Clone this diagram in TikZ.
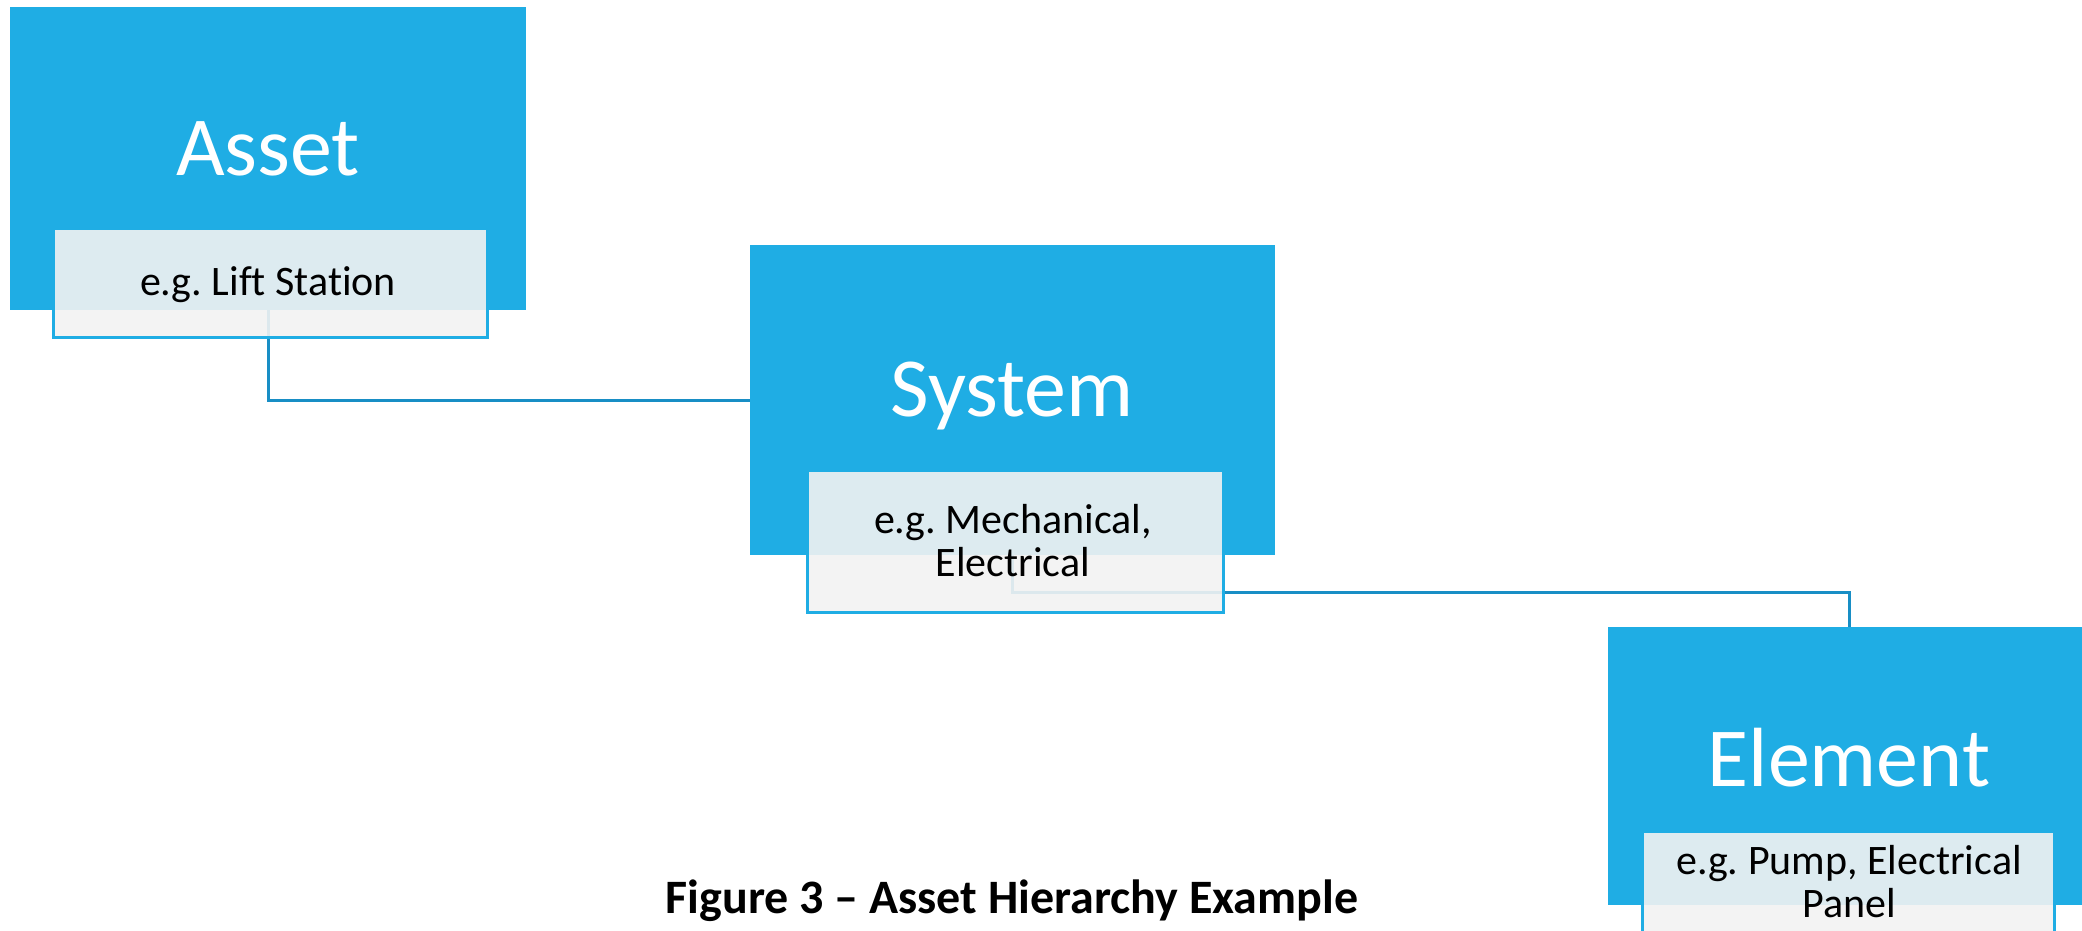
\documentclass[tikz,border=0pt]{standalone}
\usepackage{fontspec}
\setmainfont{Carlito}[Ligatures=NoCommon]
\frenchspacing
\definecolor{boxblue}{RGB}{31,173,228}
\definecolor{subgray}{RGB}{242,242,242}
\definecolor{linkblue}{RGB}{24,142,197}
\begin{document}
\begin{tikzpicture}[x=0.5pt,y=-0.5pt,
  mainbox/.style={draw=none, fill=boxblue, inner sep=0pt, outer sep=0pt},
  subbox/.style={fill=subgray, fill opacity=0.9, draw=boxblue, line width=1.5pt, inner sep=0pt, outer sep=0pt},
  link/.style={draw=linkblue, line width=1.5pt},
  title/.style={text=white, font=\fontsize{42}{50}\selectfont, anchor=base, inner sep=0pt},
  subtext/.style={text=black, font=\fontsize{21}{21.5}\selectfont\frenchspacing, align=center, inner sep=0pt}
]
\useasboundingbox (0,0) rectangle (2082,931);
\clip (0,0) rectangle (2082,931);
\node[mainbox, minimum width=258pt, minimum height=151.5pt] (asset) at (268,158.5) {};
\node[mainbox, minimum width=262.5pt, minimum height=155pt] (system) at (1012.5,400) {};
\node[mainbox, minimum width=241pt, minimum height=139pt] (element) at (1849,766) {};
\draw[link] (asset.south) |- (system.west);
\draw[link] (system.south) -- ++(0,37) coordinate (bend) -| (element.north);
\node[subbox, minimum width=217pt, minimum height=54.5pt] (assetsub) at (270,282.5) {};
\node[subbox, minimum width=208pt, minimum height=71pt] (systemsub) at (1015,541) {};
\node[subbox, minimum width=206pt, minimum height=71pt] (elementsub) at (1848,902) {};
\node[title] (assetT) at (268,176) {Asset};
\node[title] (systemT) at (1012,416) {System};
\node[title] (elementT) at (1849,786) {Element};
\node[subtext, anchor=base] (assetS) at (268,295) {e.g. Lift Station};
\node[subtext] (systemS) at (1013,541) {e.g. Mechanical,\\Electrical};
\node[subtext] (elementS) at (1849,882) {e.g. Pump, Electrical\\Panel};
\node[font=\bfseries\fontsize{24}{28}\selectfont, anchor=base, inner sep=0pt] (caption) at (1012,913) {Figure 3 – Asset Hierarchy Example};
\end{tikzpicture}
\end{document}
